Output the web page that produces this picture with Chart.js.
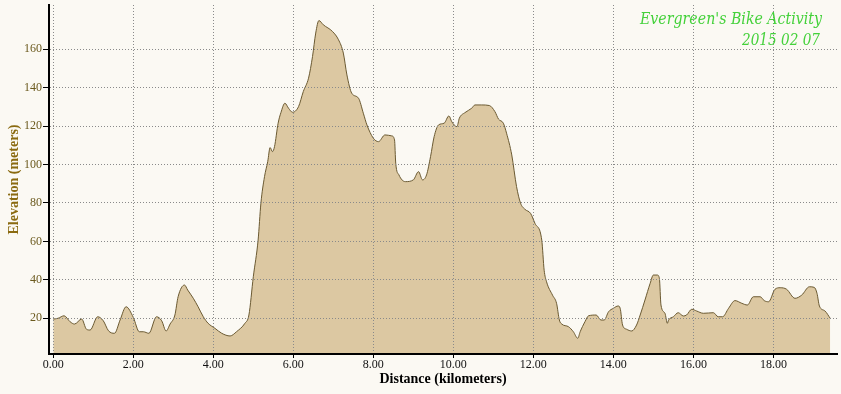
<!DOCTYPE html>
<html>
<head>
<meta charset="utf-8">
<script src="https://cdn.jsdelivr.net/npm/chart.js@4"></script>
<style>
  html, body { margin: 0; padding: 0; background: #fbf9f3; }
  #wrap { width: 841px; height: 394px; }
</style>
</head>
<body>
<div id="wrap"><canvas id="grafico" width="841" height="394"></canvas></div>
<script>
// distance (km) / elevation (m)
const distancias = [0.00, 0.12, 0.27, 0.42, 0.53, 0.71, 0.83, 0.92, 1.11, 1.25, 1.38, 1.53, 1.67, 1.82, 2.00,
    2.15, 2.25, 2.39, 2.58, 2.71, 2.82, 2.92, 3.04, 3.12, 3.28, 3.36, 3.50, 3.62, 3.75, 3.87, 4.04, 4.21, 4.42,
    4.58, 4.79, 4.89, 5.00, 5.12, 5.19, 5.28, 5.36, 5.42, 5.48, 5.53, 5.62, 5.69, 5.79, 5.88, 5.98, 6.13, 6.25,
    6.38, 6.48, 6.56, 6.64, 6.75, 6.98, 7.13, 7.25, 7.34, 7.46, 7.63, 7.75, 7.84, 8.00, 8.13, 8.29, 8.46, 8.53,
    8.56, 8.64, 8.80, 9.00, 9.13, 9.23, 9.33, 9.43, 9.52, 9.63, 9.77, 9.89, 9.96, 10.09, 10.15, 10.29, 10.46,
    10.54, 10.71, 10.90, 11.04, 11.13, 11.25, 11.33, 11.46, 11.58, 11.68, 11.79, 11.93, 12.04, 12.21, 12.27,
    12.33, 12.48, 12.58, 12.65, 12.71, 12.88, 13.00, 13.11, 13.17, 13.29, 13.38, 13.57, 13.69, 13.77, 13.88,
    14.00, 14.12, 14.17, 14.23, 14.33, 14.46, 14.58, 14.67, 14.79, 14.92, 15.00, 15.10, 15.15, 15.19, 15.29,
    15.35, 15.38, 15.50, 15.62, 15.75, 15.83, 15.96, 16.08, 16.25, 16.50, 16.62, 16.73, 16.88, 17.04, 17.21,
    17.35, 17.50, 17.67, 17.77, 17.88, 18.04, 18.17, 18.33, 18.54, 18.71, 18.90, 19.02, 19.09, 19.15, 19.29, 19.42];

const elevaciones = [19.6, 20.0, 21.3, 18.2, 17.0, 19.6, 14.3, 13.9, 20.8, 18.7, 13.5, 12.2, 19.1, 26.0, 20.5,
    13.0, 13.0, 12.2, 20.8, 18.7, 13.4, 17.0, 21.7, 31.2, 37.3, 34.7, 30.4, 26.0, 20.8, 17.4, 14.8, 12.2, 10.8,
    13.0, 17.4, 21.7, 41.6, 60.7, 79.9, 93.7, 101.5, 108.8, 106.7, 109.3, 121.5, 127.0, 131.9, 129.3, 127.2, 130.1, 138.0,
    144.9, 156.2, 168.4, 174.9, 172.7, 169.2, 164.9, 158.0, 146.6, 137.1, 134.5, 126.7, 120.6, 113.7, 111.9, 115.4, 114.9, 112.8,
    100.7, 94.6, 91.1, 92.0, 96.3, 92.0, 94.6, 104.1, 114.5, 120.6, 121.5, 125.3, 122.3, 119.7, 124.1, 127.0, 129.3,
    131.0, 131.0, 130.7, 127.5, 123.6, 121.5, 116.3, 105.0, 88.5, 79.9, 76.7, 74.6, 69.4, 60.7, 45.0,
    39.0, 32.0, 27.8, 19.1, 17.0, 15.6, 13.0, 9.6, 13.0, 18.2, 21.3, 21.7, 19.1, 19.1, 23.4,
    25.2, 26.4, 25.2, 16.5, 14.3, 13.4, 16.5, 21.7, 29.5, 38.2, 42.5, 42.5, 40.8, 26.9, 22.6,
    17.4, 19.1, 20.8, 22.9, 21.2, 21.7, 24.7, 23.8, 22.6, 22.9, 20.8, 20.8, 25.2, 29.2, 27.8,
    26.9, 31.2, 31.2, 29.2, 28.6, 35.1, 35.9, 35.1, 30.4, 32.1, 36.4, 36.1, 33.0, 26.4, 23.8, 20.0];

const ticksX = [0, 2, 4, 6, 8, 10, 12, 14, 16, 18];
const ticksY = [20, 40, 60, 80, 100, 120, 140, 160];

const titulo = "Evergreen's Bike Activity";
const fecha = "2015 02 07";

const puntos = distancias.map((d, i) => ({ x: d, y: elevaciones[i] }));

const fondo = {
    id: 'fondo',
    beforeDraw(chart) {
        const ctx = chart.ctx;
        ctx.save();
        ctx.fillStyle = '#fbf9f3';
        ctx.fillRect(0, 0, chart.width, chart.height);
        ctx.restore();
    },
    afterDraw(chart) {
        // texto verde arriba a la derecha
        const ctx = chart.ctx;
        ctx.save();
        ctx.fillStyle = '#44d13a';
        ctx.textAlign = 'right';
        ctx.font = 'italic 16px "DejaVu Serif"';
        ctx.fillText(titulo, 822, 24, 182);
        ctx.fillText(fecha, 820, 45, 78);
        ctx.restore();
    }
};

new Chart("grafico", {
    type: "line",
    data: {
        datasets: [{
            data: puntos,
            borderColor: "#6b5a32",
            borderWidth: 1,
            backgroundColor: "#dcc8a2",
            fill: 'start',
            pointRadius: 0,
            cubicInterpolationMode: 'monotone'
        }]
    },
    options: {
        responsive: false,
        animation: false,
        layout: { padding: { top: 5, right: 4, left: 0, bottom: 0 } },
        plugins: {
            legend: { display: false },
            tooltip: { enabled: false }
        },
        scales: {
            x: {
                type: 'linear',
                min: -0.107,
                max: 19.59,
                afterBuildTicks: (scale) => { scale.ticks = ticksX.map(v => ({ value: v })); },
                afterFit: (scale) => { scale.height = 40; },
                ticks: {
                    color: '#111',
                    font: { family: 'Liberation Serif', size: 12 },
                    padding: 0,
                    maxRotation: 0,
                    callback: (v) => v.toFixed(2)
                },
                grid: {
                    color: '#8a8a8a',
                    tickColor: '#000',
                    tickLength: 4,
                    tickBorderDash: [],
                    z: 1
                },
                border: { color: '#000', width: 2, dash: [1, 2], z: 2 },
                title: {
                    display: true,
                    text: 'Distance (kilometers)',
                    color: '#000',
                    font: { family: 'Liberation Serif', size: 14, weight: 'bold' },
                    padding: { top: 0, bottom: 6 }
                }
            },
            y: {
                min: 1.42,
                max: 183,
                afterBuildTicks: (scale) => { scale.ticks = ticksY.map(v => ({ value: v })); },
                afterFit: (scale) => {
                    scale.width = 49;
                    scale.paddingTop = 0;
                    scale.paddingBottom = 0;
                },
                ticks: {
                    color: '#6b5a1e',
                    font: { family: 'Liberation Serif', size: 12 },
                    padding: 1
                },
                grid: {
                    color: '#8a8a8a',
                    tickColor: '#000',
                    tickLength: 6,
                    tickBorderDash: [],
                    z: 1
                },
                border: { color: '#000', width: 2, dash: [1, 2], z: 2 },
                title: {
                    display: true,
                    text: 'Elevation (meters)',
                    color: '#8a6a10',
                    font: { family: 'Liberation Serif', size: 14, weight: 'bold' },
                    padding: { top: 6, bottom: 0 }
                }
            }
        }
    },
    plugins: [fondo]
});
</script>
</body>
</html>
